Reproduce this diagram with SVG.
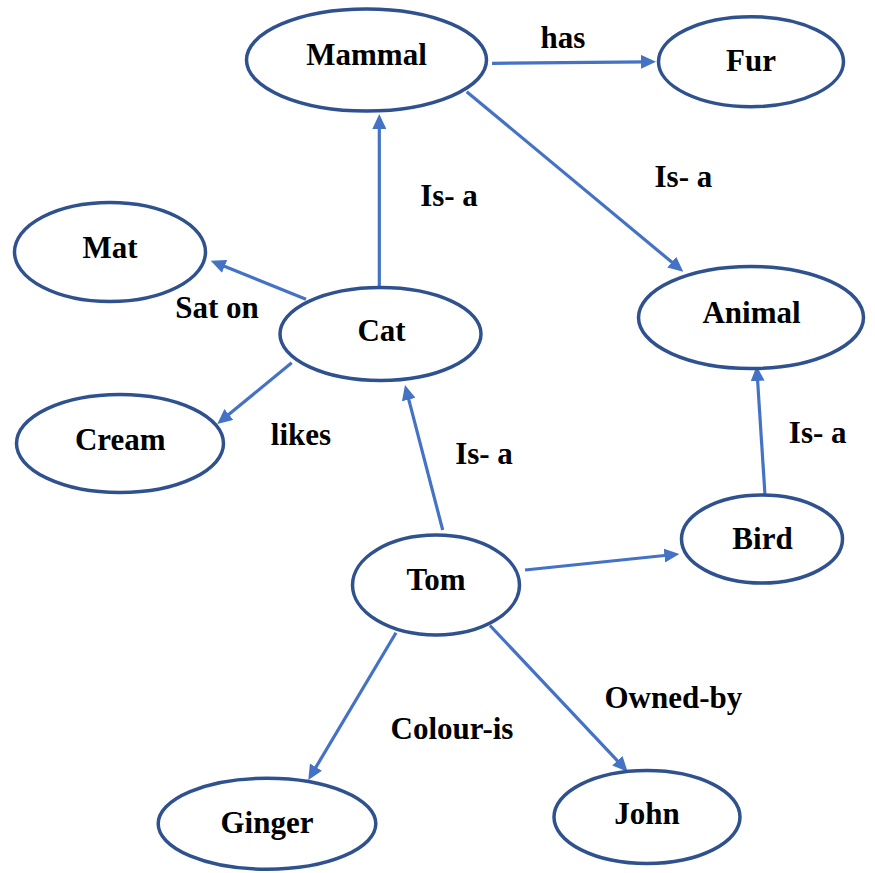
<svg xmlns="http://www.w3.org/2000/svg" width="875" height="873" viewBox="0 0 875 873">
  <style>
    .node ellipse { fill: #ffffff; stroke: #2f528f; stroke-width: 3.5; }
    .edge { stroke: #4472c4; stroke-width: 3.2; fill: none; marker-end: url(#arrow); }
  </style>
  <defs>
    <marker id="arrow" markerUnits="userSpaceOnUse" markerWidth="15" markerHeight="14" refX="5" refY="7" orient="auto">
      <path d="M0,0 L15,7 L0,14 Z" fill="#4472c4"/>
    </marker>
  </defs>
  <rect width="875" height="873" fill="#ffffff"/>

  <!-- connectors -->
  <g id="connectors">
    <line class="edge" x1="492" y1="63.3" x2="646" y2="61.8"/>
    <line class="edge" x1="379.3" y1="286.7" x2="379.3" y2="124"/>
    <line class="edge" x1="466.7" y1="91.7" x2="675.6" y2="265.3"/>
    <line class="edge" x1="306" y1="299.3" x2="220" y2="264.5"/>
    <line class="edge" x1="291.7" y1="362.7" x2="225" y2="417.6"/>
    <line class="edge" x1="442.7" y1="530" x2="407.5" y2="394.7"/>
    <line class="edge" x1="525" y1="570" x2="669.4" y2="555"/>
    <line class="edge" x1="765" y1="495" x2="757.3" y2="376"/>
    <line class="edge" x1="396" y1="632.7" x2="313.4" y2="771.4"/>
    <line class="edge" x1="490" y1="625.5" x2="620.8" y2="764.4"/>
  </g>

  <!-- all text shares one serif bold face -->
  <g font-family="Liberation Serif" font-weight="bold" font-size="31" fill="#000000" text-anchor="middle">
    <!-- relation labels -->
    <g id="labels">
      <text x="563" y="48.3">has</text>
      <text x="449" y="206">Is- a</text>
      <text x="683.4" y="187.3">Is- a</text>
      <text x="217" y="317.7">Sat on</text>
      <text x="301" y="445">likes</text>
      <text x="484" y="464">Is- a</text>
      <text x="817.7" y="443.3">Is- a</text>
      <text x="452" y="739.3">Colour-is</text>
      <text x="673.3" y="708.3">Owned-by</text>
    </g>

    <!-- nodes -->
    <g id="node-mammal" class="node">
      <ellipse cx="366.5" cy="60" rx="120" ry="51"/>
      <text x="366.5" y="65">Mammal</text>
    </g>
    <g id="node-fur" class="node">
      <ellipse cx="751" cy="61.7" rx="92.5" ry="45"/>
      <text x="751" y="71">Fur</text>
    </g>
    <g id="node-mat" class="node">
      <ellipse cx="110" cy="252" rx="95.5" ry="49.5"/>
      <text x="110" y="258">Mat</text>
    </g>
    <g id="node-cat" class="node">
      <ellipse cx="380.5" cy="334" rx="100.5" ry="46.5"/>
      <text x="381.5" y="340.5">Cat</text>
    </g>
    <g id="node-animal" class="node">
      <ellipse cx="751" cy="317.5" rx="112.5" ry="51"/>
      <text x="751.5" y="322.5">Animal</text>
    </g>
    <g id="node-cream" class="node">
      <ellipse cx="120" cy="443.5" rx="103.5" ry="49"/>
      <text x="120.3" y="450">Cream</text>
    </g>
    <g id="node-bird" class="node">
      <ellipse cx="762" cy="539" rx="80.5" ry="44"/>
      <text x="762.5" y="548.5">Bird</text>
    </g>
    <g id="node-tom" class="node">
      <ellipse cx="436" cy="585" rx="83.5" ry="50"/>
      <text x="436" y="590">Tom</text>
    </g>
    <g id="node-ginger" class="node">
      <ellipse cx="267" cy="823.7" rx="108.8" ry="45.5"/>
      <text x="267" y="833">Ginger</text>
    </g>
    <g id="node-john" class="node">
      <ellipse cx="647" cy="817" rx="93" ry="46.5"/>
      <text x="647" y="824">John</text>
    </g>
  </g>
</svg>
